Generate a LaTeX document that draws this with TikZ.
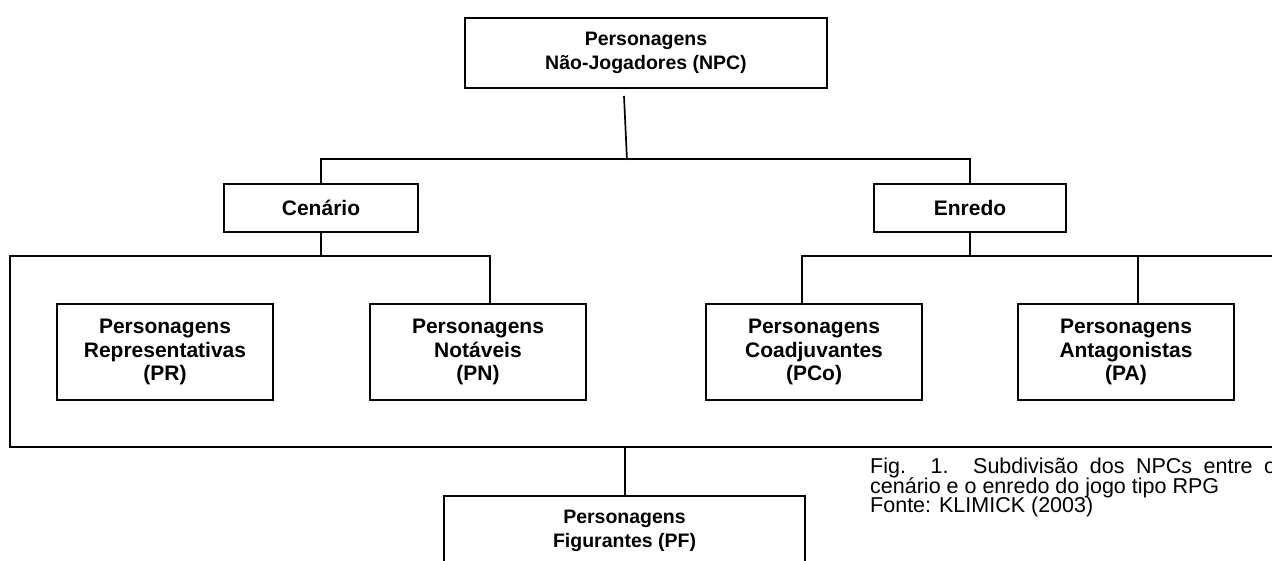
\documentclass[tikz,border=0pt]{standalone}
\usepackage{fontspec}
\setmainfont{Liberation Sans}
\usetikzlibrary{positioning}

\begin{document}
\begin{tikzpicture}[x=1pt, y=-1pt,
    box/.style={draw, line width=2pt, align=center, inner sep=0pt,
                minimum width=216pt, minimum height=96pt,
                font=\fontsize{21}{23.3}\selectfont\bfseries},
    small box/.style={box, font=\fontsize{19.5}{23.3}\selectfont\bfseries},
    link/.style={line width=2pt},
    caption/.style={inner sep=0pt, text width=406pt, align=justify,
                font={\fontsize{21.5}{19.5}\selectfont\setlength{\lineskiplimit}{-50pt}}}]
  \useasboundingbox (0,0) rectangle (1272,561);

  \node[small box, minimum width=362pt, minimum height=70pt] (npc) at (646,53) {Personagens\\Não-Jogadores (NPC)};
  \node[box, minimum width=194pt, minimum height=48pt] (cen) at (321,208) {Cenário};
  \node[box, minimum width=192pt, minimum height=48pt] (enr) at (970,208) {Enredo};
  \node[box] (pr)  at (165,352)  {Personagens\\Representativas\\(PR)};
  \node[box] (pn)  at (478,352)  {Personagens\\Notáveis\\(PN)};
  \node[box] (pco) at (814,352)  {Personagens\\Coadjuvantes\\(PCo)};
  \node[box] (pa)  at (1126,352) {Personagens\\Antagonistas\\(PA)};
  \node[small box, minimum width=361pt, minimum height=70pt] (pf) at (624.5,531) {Personagens\\Figurantes (PF)};

  \node[caption, anchor=north west] (fig) at (870,458)
    {Fig. 1. Subdivisão dos NPCs entre o\linebreak cenário e o enredo do jogo tipo RPG\\Fonte: KLIMICK (2003)};

  \coordinate (npcstem) at (624,96);
  \coordinate (hub)     at (627,160);
  \coordinate (ltop)    at (10,256);
  \coordinate (lbot)    at (10,447);
  \coordinate (rbot)    at (1280,447);
  \coordinate (rtop)    at (1280,256);

  \draw[line width=1.7pt] (npcstem) -- (hub);
  \draw[link] (cen.north) -- ++(0,-24) -| (enr.north);
  \draw[link] (cen.south) -- ++(0,24);
  \draw[link] (enr.south) -- ++(0,24);
  \draw[link] ([xshift=12pt]pn.north) |- (ltop) -- (lbot) -- (rbot);
  \draw[link] ([xshift=-12pt]pco.north) |- (rtop);
  \draw[link] ([xshift=12pt]pa.north) -- ++(0,-48);
  \draw[link] (pf.north) -- (pf.north |- rbot);
\end{tikzpicture}
\end{document}
